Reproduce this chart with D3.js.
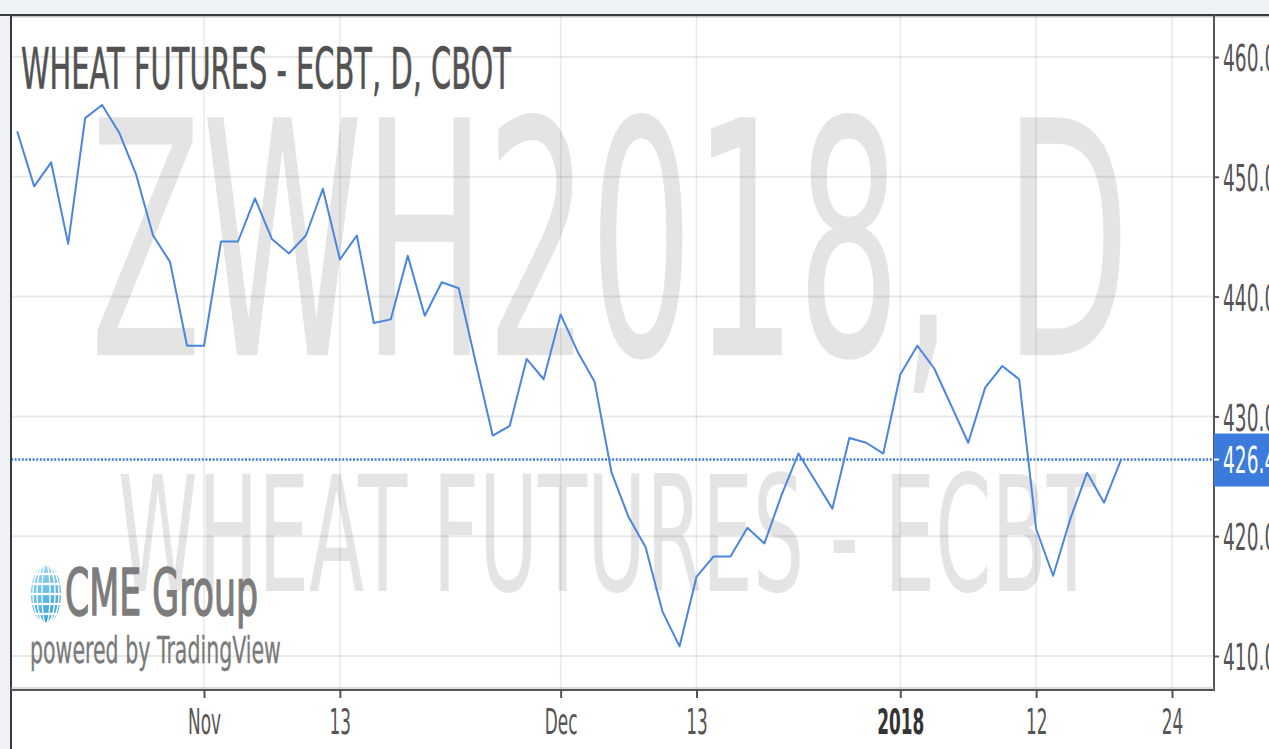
<!DOCTYPE html>
<html><head><meta charset="utf-8">
<script src="https://cdn.jsdelivr.net/npm/d3@7"></script>
<style>html,body{margin:0;padding:0;background:#fff;overflow:hidden}</style>
</head><body><svg id="c" width="1269" height="749"></svg>
<script>
// ---------- data ----------
const sessions = [
 "2017-10-17","2017-10-18","2017-10-19","2017-10-20","2017-10-23","2017-10-24","2017-10-25","2017-10-26","2017-10-27","2017-10-30",
 "2017-10-31","2017-11-01","2017-11-02","2017-11-03","2017-11-06","2017-11-07","2017-11-08","2017-11-09","2017-11-10","2017-11-13",
 "2017-11-14","2017-11-15","2017-11-16","2017-11-17","2017-11-20","2017-11-21","2017-11-22","2017-11-24","2017-11-27","2017-11-28",
 "2017-11-29","2017-11-30","2017-12-01","2017-12-04","2017-12-05","2017-12-06","2017-12-07","2017-12-08","2017-12-11","2017-12-12",
 "2017-12-13","2017-12-14","2017-12-15","2017-12-18","2017-12-19","2017-12-20","2017-12-21","2017-12-22","2017-12-26","2017-12-27",
 "2017-12-28","2017-12-29","2018-01-02","2018-01-03","2018-01-04","2018-01-05","2018-01-08","2018-01-09","2018-01-10","2018-01-11",
 "2018-01-12","2018-01-15","2018-01-16","2018-01-17","2018-01-18","2018-01-19"
];
const futureSessions = ["2018-01-22","2018-01-23","2018-01-24"];
const closes = [
 453.8, 449.2, 451.2, 444.4, 454.9, 456.0, 453.7, 450.2, 445.1, 442.9,
 435.9, 435.9, 444.6, 444.6, 448.2, 444.8, 443.6, 445.1, 449.0, 443.1,
 445.1, 437.8, 438.1, 443.4, 438.4, 441.2, 440.7, 434.5, 428.4, 429.2,
 434.8, 433.1, 438.5, 435.4, 432.9, 425.3, 421.6, 419.1, 413.7, 410.8,
 416.6, 418.3, 418.3, 420.7, 419.4, 423.4, 426.9, 424.6, 422.3, 428.2,
 427.8, 426.9, 433.5, 435.9, 434.0, 430.9, 427.8, 432.4, 434.2, 433.1,
 420.6, 416.7, 421.4, 425.3, 422.8, 426.4
];
const lastPrice = 426.4;
const priceTicks = [410, 420, 430, 440, 450, 460];
const timeTicks = ["2017-11-01","2017-11-13","2017-12-01","2017-12-13","2018-01-02","2018-01-12","2018-01-24"];
const timeTickLabels = ["Nov","13","Dec","13","2018","12","24"];
const boldTickLabels = ["2018"];
const titleText = "WHEAT FUTURES - ECBT, D, CBOT";
const watermarkSymbol = "ZWH2018, D";
const watermarkName = "WHEAT FUTURES - ECBT";
const logoName = "CME Group";
const poweredBy = "powered by TradingView";

// ---------- layout ----------
const W = 1269, H = 749;
const plot = {left: 11, right: 1214, top: 16, bottom: 690};
const allSessions = sessions.concat(futureSessions);
const idx = d => allSessions.indexOf(d);
const x = d3.scaleLinear().domain([0, idx("2018-01-24")]).range([17.2, 1172]);
const y = d3.scaleLinear().domain([410, 460]).range([656, 57]);
const FONT = "'DejaVu Sans', Verdana, sans-serif";
const SX = 0.5;

const svg = d3.select("#c");

// background frame
svg.append("rect").attr("x",0).attr("y",0).attr("width",W).attr("height",H).attr("fill","#ffffff");
svg.append("rect").attr("x",0).attr("y",0).attr("width",W).attr("height",14).attr("fill","#eef2f6");
svg.append("rect").attr("x",0).attr("y",0).attr("width",10).attr("height",H).attr("fill","#eef2f6");

const defs = svg.append("defs");
defs.append("clipPath").attr("id","plotclip").append("rect")
  .attr("x",plot.left).attr("y",plot.top).attr("width",plot.right-plot.left).attr("height",plot.bottom-plot.top);

// condensed text helper
function ctext(parent, str, px, py, size, opt) {
  opt = opt || {};
  const g = parent.append("g").attr("transform", `translate(${px},${py})`);
  const t = g.append("text").text(str)
    .attr("font-family", FONT).attr("font-size", size)
    .attr("font-weight", opt.weight || "normal")
    .attr("fill", opt.fill || "#555")
    .attr("text-anchor", opt.anchor || "start");
  if (opt.stroke) t.attr("stroke", opt.fill).attr("stroke-width", opt.stroke).attr("stroke-linejoin","round");
  let sx = SX;
  if (opt.width) { sx = opt.width / t.node().getComputedTextLength(); }
  t.attr("transform", `scale(${sx},1)`);
  return g;
}

const plotG = svg.append("g").attr("clip-path","url(#plotclip)");

// watermarks
ctext(plotG, watermarkSymbol, 90, 355, 326, {fill:"#e4e4e4", width: 1040});
ctext(plotG, watermarkName, 118, 591, 160, {fill:"#e4e4e4", width: 978});

// grid
plotG.append("g").selectAll("line").data(priceTicks).join("line")
  .attr("x1",plot.left).attr("x2",plot.right)
  .attr("y1",d=>y(d)).attr("y2",d=>y(d))
  .attr("stroke","rgba(0,0,0,0.085)").attr("stroke-width",2);
plotG.append("g").selectAll("line").data(timeTicks).join("line")
  .attr("x1",d=>x(idx(d))).attr("x2",d=>x(idx(d)))
  .attr("y1",plot.top).attr("y2",plot.bottom)
  .attr("stroke","rgba(0,0,0,0.085)").attr("stroke-width",1.5);

// title
ctext(plotG, titleText, 21, 89, 57, {fill:"#525252", width: 490, stroke: 0.6});

// logo
const globe = plotG.append("g").attr("transform","translate(46,594) scale(0.5,1)");
const gr = defs.append("linearGradient").attr("id","globeGrad").attr("x1",0).attr("y1",0).attr("x2",0.3).attr("y2",1);
gr.append("stop").attr("offset","0").attr("stop-color","#a9dbf2");
gr.append("stop").attr("offset","1").attr("stop-color","#3aa6dc");
globe.append("circle").attr("r",30).attr("fill","url(#globeGrad)");
[-20,-10,0,10,20].forEach(v=>{
  globe.append("line").attr("x1",-32).attr("x2",32).attr("y1",v).attr("y2",v).attr("stroke","#fff").attr("stroke-width",2.2);
});
[8,18,26].forEach(r=>{
  globe.append("ellipse").attr("rx",r).attr("ry",30).attr("fill","none").attr("stroke","#fff").attr("stroke-width",2.6);
});
ctext(plotG, logoName, 65, 615, 64, {fill:"#7c7c7c", width: 193, stroke: 1.6});
ctext(plotG, poweredBy, 30, 663, 38, {fill:"#7a7a7a", width: 251, stroke: 0.4});

// last price line
plotG.append("line")
  .attr("x1",plot.left).attr("x2",plot.right)
  .attr("y1",y(lastPrice)).attr("y2",y(lastPrice))
  .attr("stroke","#3c7bd9").attr("stroke-width",2.4).attr("stroke-dasharray","2,1.6");

// price line
const line = d3.line().x((d,i)=>x(i)).y(d=>y(d));
plotG.append("path").datum(closes).attr("d",line)
  .attr("fill","none").attr("stroke","#4a86de").attr("stroke-width",2).attr("stroke-linejoin","round");

// frame lines
svg.append("line").attr("x1",0).attr("x2",W).attr("y1",15).attr("y2",15).attr("stroke","#3a3a3a").attr("stroke-width",2);
svg.append("line").attr("x1",11).attr("x2",W).attr("y1",16.8).attr("y2",16.8).attr("stroke","#aaa").attr("stroke-width",1);
svg.append("line").attr("x1",11).attr("x2",11).attr("y1",14).attr("y2",H).attr("stroke","#3a3a3a").attr("stroke-width",2);

// right price axis
const yAxis = d3.axisRight(y).tickValues(priceTicks).tickFormat(d3.format(".1f")).tickSize(5).tickSizeOuter(0);
const ya = svg.append("g").attr("transform",`translate(${plot.right},0)`).call(yAxis);
ya.select(".domain").remove();
ya.selectAll(".tick line").attr("stroke","#555").attr("stroke-width",2);
ya.selectAll(".tick text")
  .attr("x",0).attr("dy","0.36em")
  .attr("font-family",FONT).attr("font-size",38).attr("fill","#555")
  .attr("transform","translate(9,0) scale(0.49,1)");
svg.append("line").attr("x1",plot.right).attr("x2",plot.right).attr("y1",15).attr("y2",plot.bottom+1)
  .attr("stroke","#555").attr("stroke-width",2);

// last price label
const yl = y(lastPrice);
svg.append("rect").attr("x",plot.right).attr("y",yl-26).attr("width",W-plot.right).attr("height",53).attr("fill","#3b7bdb");
svg.append("line").attr("x1",plot.right).attr("x2",plot.right+5).attr("y1",yl).attr("y2",yl).attr("stroke","#fff").attr("stroke-width",2);
ctext(svg, lastPrice.toFixed(1), plot.right+9, yl+13.5, 38, {fill:"#ffffff"}).select("text").attr("transform","scale(0.49,1)");

// bottom time axis
const xAxis = d3.axisBottom(x).tickValues(timeTicks.map(idx))
  .tickFormat((d,i)=>timeTickLabels[i]).tickSize(8).tickSizeOuter(0);
const xa = svg.append("g").attr("transform",`translate(0,${plot.bottom})`).call(xAxis);
xa.select(".domain").remove();
xa.selectAll(".tick line").attr("stroke","#555").attr("stroke-width",2);
xa.selectAll(".tick text")
  .attr("y",0).attr("dy",0)
  .attr("font-family",FONT).attr("font-size",36)
  .attr("fill",(d,i)=>boldTickLabels.includes(timeTickLabels[i])?"#333":"#555")
  .attr("font-weight",(d,i)=>boldTickLabels.includes(timeTickLabels[i])?"bold":"normal")
  .attr("transform","translate(0,44) scale(0.47,1)");
svg.append("line").attr("x1",11).attr("x2",plot.right+1).attr("y1",plot.bottom).attr("y2",plot.bottom)
  .attr("stroke","#555").attr("stroke-width",2);
svg.append("line").attr("x1",11).attr("x2",plot.right).attr("y1",plot.bottom-2).attr("y2",plot.bottom-2)
  .attr("stroke","#bbb").attr("stroke-width",1);
</script></body></html>
